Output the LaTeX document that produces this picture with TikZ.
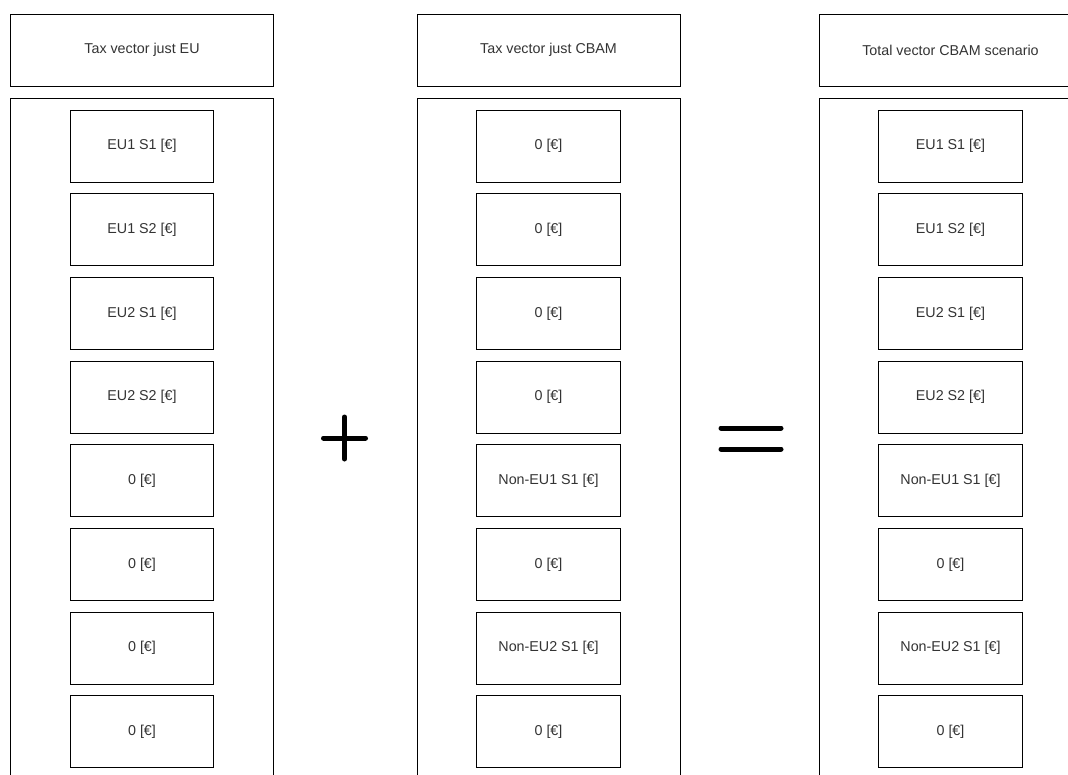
\documentclass[tikz,border=0pt]{standalone}
\usepackage{fontspec}
\setmainfont{Liberation Sans}
\definecolor{txt}{HTML}{333333}
\begin{document}
\begin{tikzpicture}[x=1pt,y=-1pt,
  header/.style={draw=black,line width=1pt,minimum width=263pt,minimum height=71.5pt,inner sep=0pt,font=\fontsize{14.3}{16}\selectfont,text=txt},
  container/.style={draw=black,line width=1pt,minimum width=263pt,minimum height=760pt,inner sep=0pt},
  cell/.style={draw=black,line width=1pt,minimum width=143.5pt,minimum height=72pt,inner sep=0pt,font=\fontsize{14.3}{16}\selectfont,text=txt},
  opline/.style={line width=5pt,line cap=round,black}]
\useasboundingbox (0,0) rectangle (1068,774);
\clip (0,0) rectangle (1068,774);
% columns
\node[header] (hA) at (142,50.25) {Tax vector just EU};
\node[header] (hB) at (548.5,50.25) {Tax vector just CBAM};
\node[header] (hC) at (950.5,50.25) {Total vector CBAM scenario};
\node[container,anchor=north] (cA) at (142,98) {};
\node[container,anchor=north] (cB) at (548.5,98) {};
\node[container,anchor=north] (cC) at (950.5,98) {};
% cells
\foreach \t [count=\i from 0] in {EU1 S1 [€],EU1 S2 [€],EU2 S1 [€],EU2 S2 [€],0 [€],0 [€],0 [€],0 [€]}
  \node[cell] (a\i) at (142,146+83.7*\i) {\t};
\foreach \t [count=\i from 0] in {0 [€],0 [€],0 [€],0 [€],Non-EU1 S1 [€],0 [€],Non-EU2 S1 [€],0 [€]}
  \node[cell] (b\i) at (548.5,146+83.7*\i) {\t};
\foreach \t [count=\i from 0] in {EU1 S1 [€],EU1 S2 [€],EU2 S1 [€],EU2 S2 [€],Non-EU1 S1 [€],0 [€],Non-EU2 S1 [€],0 [€]}
  \node[cell] (c\i) at (950.5,146+83.7*\i) {\t};
% plus
\coordinate (plus) at (344.5,438);
\draw[opline] ([xshift=-21pt]plus) -- ([xshift=21pt]plus);
\draw[opline] ([yshift=-21pt]plus) -- ([yshift=21pt]plus);
% equals
\coordinate (eq) at (751,438.5);
\draw[opline] ([shift={(-30,-10.5)}]eq) -- ([shift={(30,-10.5)}]eq);
\draw[opline] ([shift={(-30,10.5)}]eq) -- ([shift={(30,10.5)}]eq);
\end{tikzpicture}
\end{document}
